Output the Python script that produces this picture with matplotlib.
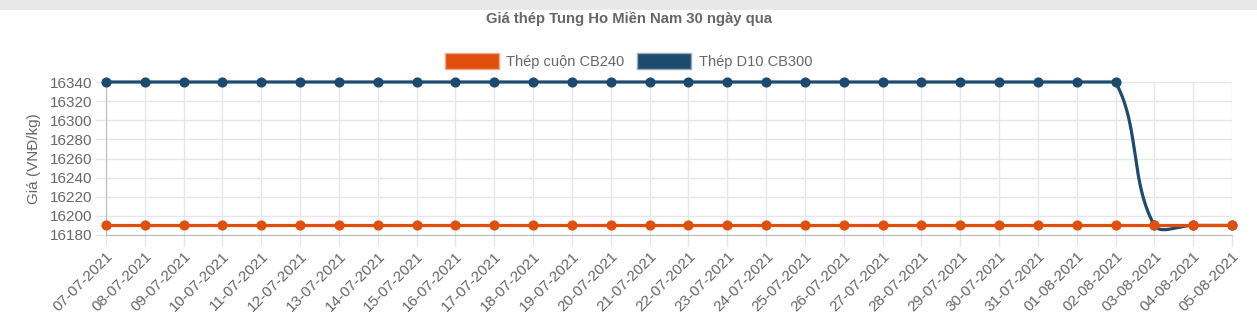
"""
Giá thép Tung Ho Miền Nam 30 ngày qua - line chart (Chart.js style)
"""
import numpy as np
import matplotlib
matplotlib.use("Agg")
import matplotlib.pyplot as plt
from matplotlib.patches import Rectangle, Patch

plt.rcParams["font.family"] = ["Liberation Sans", "DejaVu Sans"]

# ── data ─────────────────────────────────────────────────────────────────────
DATES = [
    "07-07-2021", "08-07-2021", "09-07-2021", "10-07-2021", "11-07-2021",
    "12-07-2021", "13-07-2021", "14-07-2021", "15-07-2021", "16-07-2021",
    "17-07-2021", "18-07-2021", "19-07-2021", "20-07-2021", "21-07-2021",
    "22-07-2021", "23-07-2021", "24-07-2021", "25-07-2021", "26-07-2021",
    "27-07-2021", "28-07-2021", "29-07-2021", "30-07-2021", "31-07-2021",
    "01-08-2021", "02-08-2021", "03-08-2021", "04-08-2021", "05-08-2021",
]
CB240 = [16190] * 30
D10_CB300 = [16340] * 27 + [16190, 16190, 16190]

Y_TICKS = [16180, 16200, 16220, 16240, 16260, 16280, 16300, 16320, 16340]

ORANGE = "#e04e0b"
BLUE = "#1c4b6d"
TEXT = "#666666"
GRID = "#e6e6e6"

W, H, DPI = 1257, 327, 100
LEFT, RIGHT, TOP, BOTTOM = 106, 1232, 82, 235   # plot area in pixels


def bezier_line(xs, ys, px_per_x, px_per_y, ylim, tension=0.4, n=30):
    """Chart.js style cubic spline (computed in pixel space, control points capped)."""
    px = np.asarray(xs, float) * px_per_x
    py = np.asarray(ys, float) * px_per_y
    lo, hi = ylim[0] * px_per_y, ylim[1] * px_per_y
    m = len(px)
    c1 = np.zeros((m, 2))
    c2 = np.zeros((m, 2))
    for i in range(m):
        p = np.array([px[max(i - 1, 0)], py[max(i - 1, 0)]])
        c = np.array([px[i], py[i]])
        nx = np.array([px[min(i + 1, m - 1)], py[min(i + 1, m - 1)]])
        d01 = np.hypot(*(c - p))
        d12 = np.hypot(*(nx - c))
        tot = d01 + d12
        fa = tension * d01 / tot if tot else 0
        fb = tension * d12 / tot if tot else 0
        c1[i] = c - fa * (nx - p)
        c2[i] = c + fb * (nx - p)
    c1[:, 1] = np.clip(c1[:, 1], lo, hi)
    c2[:, 1] = np.clip(c2[:, 1], lo, hi)
    out_x, out_y = [], []
    t = np.linspace(0, 1, n)[:, None]
    for i in range(m - 1):
        P0 = np.array([px[i], py[i]])
        P3 = np.array([px[i + 1], py[i + 1]])
        seg = ((1 - t) ** 3) * P0 + 3 * ((1 - t) ** 2) * t * c2[i] \
            + 3 * (1 - t) * t ** 2 * c1[i + 1] + t ** 3 * P3
        out_x.extend(seg[:, 0] / px_per_x)
        out_y.extend(seg[:, 1] / px_per_y)
    return np.array(out_x), np.array(out_y)


fig = plt.figure(figsize=(W / DPI, H / DPI), dpi=DPI)
fig.patches.append(Rectangle((0, 1 - 10 / H), 1, 10 / H, transform=fig.transFigure,
                             facecolor="#e8e8e8", edgecolor="none"))
ax = fig.add_axes([LEFT / W, 1 - BOTTOM / H, (RIGHT - LEFT) / W, (BOTTOM - TOP) / H])

x = np.arange(len(DATES))
ylim = (Y_TICKS[0], Y_TICKS[-1])
px_x = (RIGHT - LEFT) / (len(DATES) - 1)
px_y = (BOTTOM - TOP) / (ylim[1] - ylim[0])

for vals, color, z in [(D10_CB300, BLUE, 3), (CB240, ORANGE, 4)]:
    sx, sy = bezier_line(x, vals, px_x, px_y, ylim)
    ax.plot(sx, sy, color=color, lw=2.3, zorder=z, solid_capstyle="round", clip_on=False)
    ax.plot(x, vals, "o", color=color, ms=6.3, zorder=z, clip_on=False)

ax.set_xlim(0, len(DATES) - 1)
ax.set_ylim(*ylim)
ax.set_xticks(x)
ax.set_xticklabels(DATES, rotation=45, ha="right", rotation_mode="anchor")
ax.set_yticks(Y_TICKS)
ax.tick_params(axis="both", colors=GRID, labelcolor=TEXT, labelsize=11, length=8, width=1)
ax.tick_params(axis="x", pad=2)
ax.tick_params(axis="y", pad=2)
ax.grid(True, color=GRID, lw=1)
ax.set_axisbelow(True)
for side in ["top", "right"]:
    ax.spines[side].set_visible(False)
for side in ["left", "bottom"]:
    ax.spines[side].set_color("#bdbdbd")

ax.set_ylabel("Giá (VNĐ/kg)", color=TEXT, fontsize=11, labelpad=6)

fig.text(0.5, 1 - 19 / H, "Giá thép Tung Ho Miền Nam 30 ngày qua", ha="center", va="center",
         fontsize=10.7, fontweight="bold", color=TEXT)

handles = [Patch(facecolor=ORANGE, edgecolor="#f2a98a", lw=1, label="Thép cuộn CB240"),
           Patch(facecolor=BLUE, edgecolor="#9aa9b8", lw=1, label="Thép D10 CB300")]
fig.legend(handles=handles, loc="center", bbox_to_anchor=(0.5, 1 - 61 / H), ncol=2,
           frameon=False, fontsize=10.5, handlelength=3.7, handleheight=1.25,
           handletextpad=0.5, columnspacing=0.9, labelcolor=TEXT)

fig.savefig("out.png", dpi=DPI)
